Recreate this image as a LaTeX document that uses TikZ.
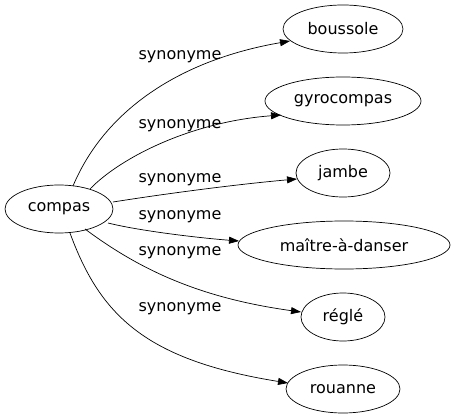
\documentclass[tikz,border=0pt]{standalone}
\usepackage{fontspec}
\setmainfont{DejaVu Sans}
\usetikzlibrary{shapes.geometric,arrows.meta}
\begin{document}
\begin{tikzpicture}[x=1pt,y=-1pt,
  every node/.style={font=\fontsize{16}{18}\selectfont},
  term/.style={draw,ellipse,inner sep=0pt,minimum height=48pt,line width=0.7pt},
  rel/.style={draw,line width=0.7pt,-{Triangle[length=10pt,width=7pt]}},
  lab/.style={inner sep=0pt}]
\useasboundingbox (0,0) rectangle (454,419);
\node[term,minimum width=108pt] (c) at (59,209) {compas};
\node[term,minimum width=120pt] (b) at (343,29) {boussole};
\node[term,minimum width=156pt] (g) at (343,101) {gyrocompas};
\node[term,minimum width=94pt] (j) at (343,173) {jambe};
\node[term,minimum width=212pt] (m) at (344,245) {maître-à-danser};
\node[term,minimum width=84pt] (r) at (343,317) {réglé};
\node[term,minimum width=114pt] (o) at (343,389) {rouanne};
\coordinate (s1) at (73,186);
\coordinate (s2) at (90,189);
\coordinate (s3) at (113,202);
\coordinate (s4) at (108,223);
\coordinate (s5) at (85,229);
\coordinate (s6) at (70,233);
\coordinate (e1) at (290,41);
\coordinate (e2) at (281,115);
\coordinate (e3) at (297,179);
\coordinate (e4) at (239,241);
\coordinate (e5) at (301,312);
\coordinate (e6) at (288,383);
\draw[rel] (s1) .. controls (105,110) and (180,60) .. (e1);
\draw[rel] (s2) .. controls (120,158) and (190,122) .. (e2);
\draw[rel] (s3) .. controls (170,193) and (240,184) .. (e3);
\draw[rel] (s4) .. controls (140,231) and (200,238) .. (e4);
\draw[rel] (s5) .. controls (140,270) and (200,298) .. (e5);
\draw[rel] (s6) .. controls (100,315) and (145,360) .. (e6);
\node[lab] (l1) at (180,57) {synonyme};
\node[lab] (l2) at (180,126) {synonyme};
\node[lab] (l3) at (180,180) {synonyme};
\node[lab] (l4) at (180,217) {synonyme};
\node[lab] (l5) at (180,253) {synonyme};
\node[lab] (l6) at (180,309) {synonyme};
\end{tikzpicture}
\end{document}
